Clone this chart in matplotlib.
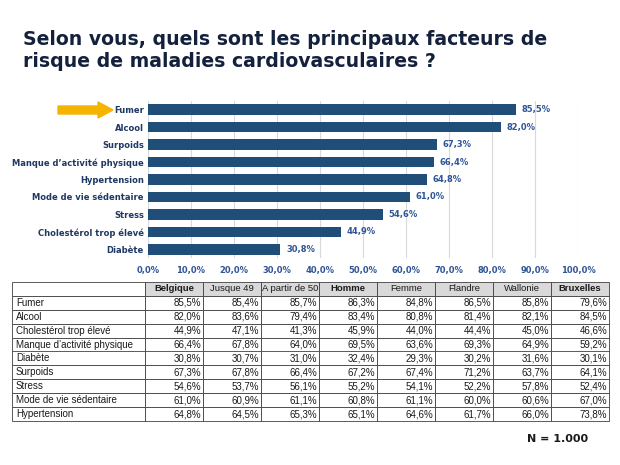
import matplotlib
matplotlib.use("Agg")
import matplotlib.pyplot as plt
from matplotlib.patches import FancyArrow

# bar chart data (top to bottom)
categories = ["Fumer", "Alcool", "Surpoids", "Manque d\u2019activit\u00e9 physique",
              "Hypertension", "Mode de vie s\u00e9dentaire", "Stress",
              "Cholest\u00e9rol trop \u00e9lev\u00e9", "Diab\u00e8te"]
values = [85.5, 82.0, 67.3, 66.4, 64.8, 61.0, 54.6, 44.9, 30.8]

# table data
columns = ["Belgique", "Jusque 49", "A partir de 50", "Homme", "Femme",
           "Flandre", "Wallonie", "Bruxelles"]
bold_columns = ["Belgique", "Homme", "Bruxelles"]
rows = ["Fumer", "Alcool", "Cholest\u00e9rol trop \u00e9lev\u00e9",
        "Manque d\u2019activit\u00e9 physique", "Diab\u00e8te", "Surpoids",
        "Stress", "Mode de vie s\u00e9dentaire", "Hypertension"]
fumer = [85.5, 85.4, 85.7, 86.3, 84.8, 86.5, 85.8, 79.6]
alcool = [82.0, 83.6, 79.4, 83.4, 80.8, 81.4, 82.1, 84.5]
cholesterol = [44.9, 47.1, 41.3, 45.9, 44.0, 44.4, 45.0, 46.6]
manque = [66.4, 67.8, 64.0, 69.5, 63.6, 69.3, 64.9, 59.2]
diabete = [30.8, 30.7, 31.0, 32.4, 29.3, 30.2, 31.6, 30.1]
surpoids = [67.3, 67.8, 66.4, 67.2, 67.4, 71.2, 63.7, 64.1]
stress = [54.6, 53.7, 56.1, 55.2, 54.1, 52.2, 57.8, 52.4]
sedentaire = [61.0, 60.9, 61.1, 60.8, 61.1, 60.0, 60.6, 67.0]
hypertension = [64.8, 64.5, 65.3, 65.1, 64.6, 61.7, 66.0, 73.8]
table_values = [fumer, alcool, cholesterol, manque, diabete, surpoids,
                stress, sedentaire, hypertension]


def pct(v):
    return f"{v:.1f}%".replace(".", ",")


bar_color = "#1f4e79"
label_color = "#1f3864"
title_color = "#14213d"

fig = plt.figure(figsize=(6.2, 4.65), dpi=100)
fig.patch.set_facecolor("white")

fig.text(0.037, 1 - 30 / 465,
         "Selon vous, quels sont les principaux facteurs de\n"
         "risque de maladies cardiovasculaires ?",
         ha="left", va="top", fontsize=13.6, fontweight="bold",
         color=title_color, linespacing=1.2)

ax = fig.add_axes([148 / 620, 1 - 258 / 465, 430 / 620, 157 / 465])
y = list(range(len(categories)))
ax.barh(y, values, height=0.6, color=bar_color, zorder=2)
ax.set_ylim(len(categories) - 0.5, -0.5)
ax.set_xlim(0, 100)
ax.set_xticks(range(0, 101, 10))
ax.set_xticklabels([pct(t) for t in range(0, 101, 10)],
                   fontsize=6, fontweight="bold", color="#2f5597")
ax.set_yticks(y)
ax.set_yticklabels(categories, fontsize=6, fontweight="bold", color=label_color)
ax.tick_params(length=0, pad=3)
ax.tick_params(axis="x", pad=6)
ax.grid(axis="x", color="#d9d9d9", linewidth=0.8, zorder=0)
for s in ax.spines.values():
    s.set_visible(False)
for yi, v in zip(y, values):
    ax.text(v + 1.3, yi, pct(v), va="center", ha="left", fontsize=6,
            fontweight="bold", color="#2f5597")

# orange arrow next to "Fumer"
fig.patches.append(FancyArrow(58 / 620, 1 - 110 / 465, 40 / 620, 0,
                              width=8 / 465, head_width=16 / 465,
                              head_length=15 / 620, length_includes_head=False,
                              color="#f5b400", transform=fig.transFigure,
                              figure=fig))

# table
tax = fig.add_axes([12 / 620, 1 - 421 / 465, 597 / 620, 139 / 465])
tax.axis("off")
cell_text = [[r] + [pct(v) for v in vals] for r, vals in zip(rows, table_values)]
first_w = 133 / 597
other_w = (1 - first_w) / len(columns)
tbl = tax.table(cellText=cell_text, colLabels=[""] + columns,
                colWidths=[first_w] + [other_w] * len(columns),
                bbox=[0, 0, 1, 1], cellLoc="right")
tbl.auto_set_font_size(False)
for (r, c), cell in tbl.get_celld().items():
    cell.set_edgecolor("#404040")
    cell.set_linewidth(0.6)
    txt = cell.get_text()
    txt.set_fontsize(7)
    txt.set_family("Liberation Sans")
    txt.set_color("#1a1a1a")
    if r == 0:
        txt.set_ha("center")
        txt.set_fontsize(6.8)
        cell._loc = "center"
        if c > 0:
            cell.set_facecolor("#d9d9d9")
            if columns[c - 1] in bold_columns:
                txt.set_fontweight("bold")
    elif c == 0:
        cell._loc = "left"
        txt.set_ha("left")
    cell.PAD = 0.03

fig.text(558 / 620, 1 - 439 / 465, "N = 1.000", ha="center", va="center",
         fontsize=8, fontweight="bold", color="#1a1a1a")

fig.savefig("out.png", dpi=100)
